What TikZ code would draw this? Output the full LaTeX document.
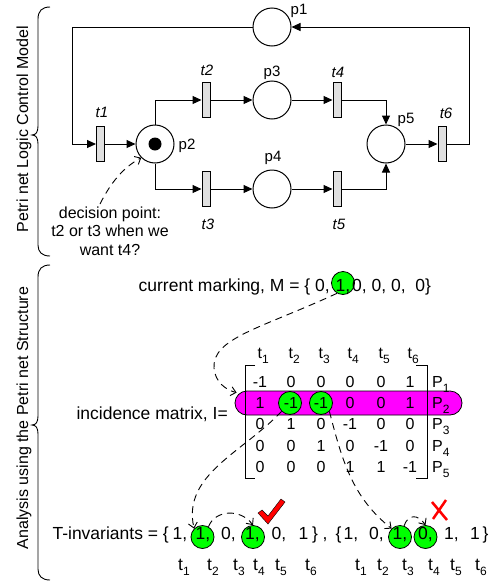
\documentclass[tikz,border=0pt]{standalone}
\usepackage{fontspec}
\setmainfont{Liberation Sans}
\usetikzlibrary{arrows.meta,calc}
\definecolor{mag}{RGB}{255,0,255}
\definecolor{grn}{RGB}{0,255,0}
\definecolor{trgray}{RGB}{224,224,224}
\newcommand\tsubm[2]{#1\raisebox{-5pt}{\fontsize{12}{12}\selectfont #2}}
\newcommand\tsubb[2]{#1\raisebox{-5pt}{\fontsize{12}{12}\selectfont #2}}
\begin{document}
\begin{tikzpicture}[x=1pt,y=-1pt,
  place/.style={draw,circle,line width=1pt,minimum size=38pt,inner sep=0pt,fill=white},
  trans/.style={draw,rectangle,line width=1pt,minimum width=8pt,minimum height=35pt,inner sep=0pt,fill=trgray},
  arc/.style={line width=1pt,-{Triangle[length=9pt,width=8pt]}},
  dasharrow/.style={line width=0.9pt,dash pattern=on 7pt off 5pt,-{Straight Barb[length=5pt,width=9pt]}},
  lbl/.style={font=\fontsize{15}{15}\selectfont,inner sep=0pt},
  tlbl/.style={font=\fontsize{15}{15}\selectfont\itshape,inner sep=0pt},
  hl/.style={draw,circle,fill=grn,line width=0.8pt,minimum size=23pt,inner sep=0pt},
  big/.style={font=\fontsize{17.5}{17.5}\selectfont,inner sep=0pt},
  num/.style={font=\fontsize{16}{16}\selectfont,inner sep=0pt,anchor=base},
  side/.style={font=\fontsize{16}{16}\selectfont,inner sep=0pt,rotate=90},
  brace/.style={line width=0.9pt},
]
\useasboundingbox (0,0) rectangle (491,581);

% ---------- braces and side labels ----------
\draw[brace] (50,7) .. controls (42,7) and (38,11) .. (38,19) -- (38,126)
  .. controls (38,132) and (36,135) .. (32,135) .. controls (36,135) and (38,138) .. (38,144)
  -- (38,245) .. controls (38,252) and (42,256) .. (50,256);
\draw[brace] (50,265) .. controls (42,265) and (38,269) .. (38,277) -- (38,416)
  .. controls (38,422) and (36,425) .. (32,425) .. controls (36,425) and (38,428) .. (38,434)
  -- (38,569) .. controls (38,576) and (42,580) .. (50,580);
\node[side] (lab1) at (24,129) {Petri net Logic Control Model};
\node[side] (lab2) at (24,418) {Analysis using the Petri net Structure};

% ---------- Petri net ----------
\node[place] (p1) at (272,27) {};
\node[place] (p2) at (155,144) {};
\node[circle,fill=black,minimum size=13pt,inner sep=0pt] (tok) at (p2) {};
\node[place] (p3) at (272,100) {};
\node[place] (p4) at (272,189) {};
\node[place] (p5) at (386,144) {};
\node[trans] (t1) at (100.5,144) {};
\node[trans] (t2) at (206,100) {};
\node[trans] (t3) at (206,189) {};
\node[trans] (t4) at (337,100) {};
\node[trans] (t5) at (337,189) {};
\node[trans] (t6) at (442,144) {};

\coordinate (rc) at (469,144);
\coordinate (lc) at (72,27);
\draw[arc] (t6.east) -- (rc) |- (p1.east);
\draw[arc] (p1.west) -- (lc) |- (t1.west);
\draw[arc] (t1) -- (p2);
\draw[arc] (p2.north) |- (t2.west);
\draw[arc] (p2.south) |- (t3.west);
\draw[arc] (t2) -- (p3);
\draw[arc] (t3) -- (p4);
\draw[arc] (p3) -- (t4);
\draw[arc] (p4) -- (t5);
\draw[arc] (t4.east) -| (p5.north);
\draw[arc] (t5.east) -| (p5.south);
\draw[arc] (p5) -- (t6);

\node[lbl] (lp1) at (299,11) {p1};
\node[lbl] (lp2) at (187,146) {p2};
\node[lbl] (lp3) at (272,73) {p3};
\node[lbl] (lp4) at (273,158) {p4};
\node[lbl] (lp5) at (406,120) {p5};
\node[tlbl] (lt1) at (102,112) {t1};
\node[tlbl] (lt2) at (207,70) {t2};
\node[tlbl] (lt3) at (208,224) {t3};
\node[tlbl] (lt4) at (338,72) {t4};
\node[tlbl] (lt5) at (339,224) {t5};
\node[tlbl] (lt6) at (446,113) {t6};

\node[font=\fontsize{16}{18.5}\selectfont,align=center,inner sep=0pt] (dec) at (110,231)
  {decision point:\\t2 or t3 when we\\want t4?};
\coordinate (d0) at (100,204);
\draw[dasharrow] (d0) .. controls (111,182) and (124,167) .. (p2.south west);

% ---------- current marking ----------
\node[hl] (m1) at (343,283) {};
\node[big,anchor=base east] (mtxt) at (330,291) {current marking, M = \{ 0,};
\node[big,anchor=base] (m1t) at (343,291) {1,};
\node[big,anchor=base west] (mrest) at (352,291) {0, 0, 0,\ \ 0\}};

% ---------- incidence matrix ----------
\node[draw,fill=mag,rounded corners=12pt,minimum width=227pt,minimum height=24pt,line width=0.8pt,inner sep=0pt] (pill) at (348.5,403) {};
\node[hl] (g2) at (290,403) {};
\node[hl] (g3) at (321,403) {};
\node[big,anchor=base east] (itxt) at (228,419) {incidence matrix, I=};

\foreach \c/\x in {1/260,2/291,3/321,4/350,5/381,6/410}{
  \node[num,anchor=base west] (h\c) at (\x-2.5,358) {\tsubm{t}{\c}};
}
\foreach \r/\y/\a/\b/\cc/\d/\e/\f in {1/387/-1/0/0/0/0/1,2/408/1/-1/-1/0/0/1,3/429/0/1/0/-1/0/0,4/451/0/0/1/0/-1/0,5/472/0/0/0/1/1/-1}{
  \node[num] (m\r a) at (260,\y) {\a};
  \node[num] (m\r b) at (291,\y) {\b};
  \node[num] (m\r c) at (321,\y) {\cc};
  \node[num] (m\r d) at (350,\y) {\d};
  \node[num] (m\r e) at (381,\y) {\e};
  \node[num] (m\r f) at (410,\y) {\f};
  \node[num,anchor=base west] (P\r) at (432,\y) {\tsubm{P}{\r}};
}
\draw[line width=0.9pt] (255,365) -- (245,365) -- (245,478) -- (255,478);
\draw[line width=0.9pt] (416,365) -- (427,365) -- (427,478) -- (416,478);

\draw[dasharrow] (m1.240) .. controls (262,328) and (212,338) .. (214,368)
  .. controls (215,382) and (226,390) .. ($(pill.north west)+(2,2)$);

% ---------- T-invariants ----------
\node[hl] (i2) at (202.5,537) {};
\node[hl] (i4) at (253,537) {};
\node[hl] (j3) at (400,537) {};
\node[hl] (j4) at (425.5,537) {};

\node[big,anchor=base east] (ttxt) at (169,539) {T-invariants = \{};
\node[big,anchor=base] (a1) at (180,539) {1,};
\node[big,anchor=base] (a2) at (203,539) {1,};
\node[big,anchor=base] (a3) at (228.5,539) {0,};
\node[big,anchor=base] (a4) at (252.5,539) {1,};
\node[big,anchor=base] (a5) at (279,539) {0,};
\node[big,anchor=base] (a6) at (303.5,539) {1};
\node[big,anchor=base] (a7) at (315,539) {\}};
\node[big,anchor=base] (a8) at (325,539) {,};
\node[big,anchor=base] (b0) at (338.5,539) {\{};
\node[big,anchor=base] (b1) at (351,539) {1,};
\node[big,anchor=base] (b2) at (376.5,539) {0,};
\node[big,anchor=base] (b3) at (400,539) {1,};
\node[big,anchor=base] (b4) at (425.5,539) {0,};
\node[big,anchor=base] (b5) at (451.5,539) {1,};
\node[big,anchor=base] (b6) at (475,539) {1};
\node[big,anchor=base] (b7) at (485.5,539) {\}};

\foreach \i/\x in {1/180.5,2/209.5,3/235.5,4/255.5,5/277.5,6/307.5}{
  \node[big,anchor=base west] (ta\i) at (\x-2.5,570) {\tsubb{t}{\i}};
}
\foreach \i/\x in {1/357.5,2/379.5,3/404.5,4/430.5,5/452.5,6/477.5}{
  \node[big,anchor=base west] (tb\i) at (\x-2.5,570) {\tsubb{t}{\i}};
}

\draw[dasharrow] (g2.south west) .. controls (242,453) and (182,475) .. (i2.north west);
\draw[dasharrow] (g3.south east) .. controls (342,460) and (352,497) .. (j3.north west);
\draw[dasharrow] (i2.60) .. controls (215,510) and (240,508) .. (i4.north);
\draw[dasharrow] (j3.70) .. controls (408,514) and (418,514) .. (j4.north);

% check mark and cross
\filldraw[fill=red,draw=black,line width=0.4pt] (258,513) -- (262,510) -- (268,516) -- (281,499) -- (285,502) -- (268,524) -- cycle;
\draw[red,line width=2.5pt] (432,502) -- (447,520);
\draw[red,line width=2.5pt] (446,500) -- (433,519);
\end{tikzpicture}
\end{document}
